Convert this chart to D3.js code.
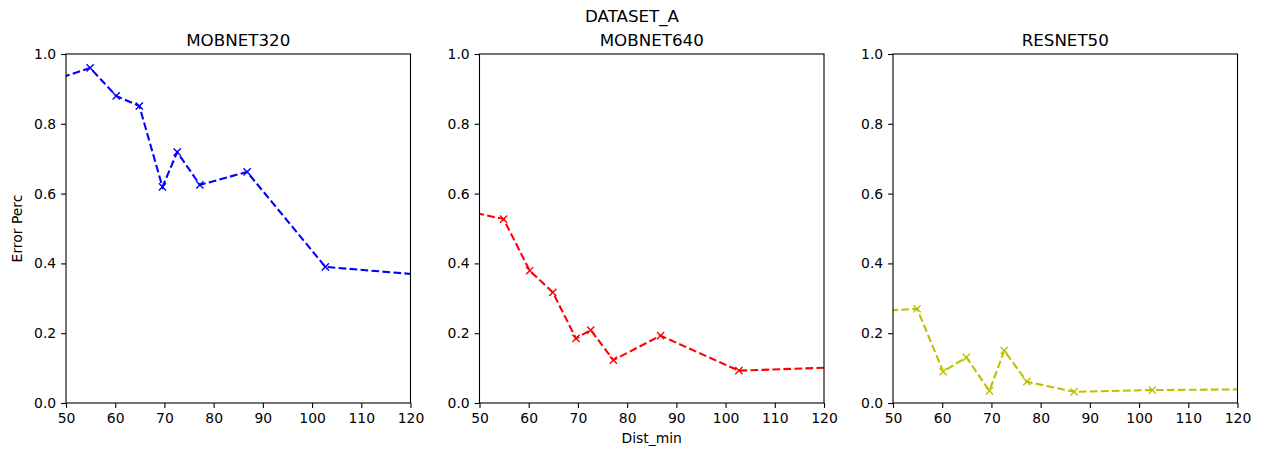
<!DOCTYPE html>
<html>
<head>
<meta charset="utf-8">
<script src="https://cdn.jsdelivr.net/npm/d3@7"></script>
<style>
  body { margin: 0; background: #fff; }
  svg { font-family: "DejaVu Sans", sans-serif; }
</style>
</head>
<body>
<svg width="1263" height="450"></svg>
<script>
// distances (the first and last fall outside the shown x range and get clipped)
const distMin = [45, 54.9, 60.2, 64.9, 69.6, 72.6, 77.2, 86.8, 102.7, 150];
const mobnet320 = [0.914, 0.96, 0.88, 0.851, 0.619, 0.719, 0.625, 0.662, 0.39, 0.335];
const mobnet640 = [0.557, 0.527, 0.379, 0.317, 0.185, 0.209, 0.123, 0.193, 0.0926, 0.1156];
const resnet50 = [0.262, 0.270, 0.090, 0.131, 0.035, 0.150, 0.061, 0.032, 0.037, 0.0425];
const modelNames = ['MOBNET320', 'MOBNET640', 'RESNET50'];
const lineColors = ['#0000ff', '#ff0000', '#bfbf00'];
const xTicks = [50, 60, 70, 80, 90, 100, 110, 120];
const yTicks = [0, 0.2, 0.4, 0.6, 0.8, 1.0];

const series = [mobnet320, mobnet640, resnet50];
const svg = d3.select('svg');

const panelLeft = [66, 479.5, 893];
const panelW = 344.5;
const plotTop = 54, plotBottom = 403;
const plotH = plotBottom - plotTop;

svg.append('text')
    .attr('x', 632).attr('y', 22)
    .attr('text-anchor', 'middle')
    .style('font-size', '16.7px')
    .text('DATASET_A');

series.forEach((vals, k) => {
    const x = d3.scaleLinear().domain([50, 120]).range([0, panelW]);
    const y = d3.scaleLinear().domain([0, 1]).range([plotH, 0]);
    const g = svg.append('g').attr('transform', `translate(${panelLeft[k]},${plotTop})`);

    g.append('clipPath').attr('id', 'clip' + k)
        .append('rect').attr('width', panelW).attr('height', plotH);

    const pts = distMin.map((d, i) => [d, vals[i]]);
    const plot = g.append('g').attr('clip-path', `url(#clip${k})`);

    plot.append('path')
        .datum(pts)
        .attr('fill', 'none')
        .attr('stroke', lineColors[k])
        .attr('stroke-width', 2.08)
        .attr('stroke-dasharray', '7.7,3.3')
        .attr('d', d3.line().x(d => x(d[0])).y(d => y(d[1])));

    const s = 3.6;
    plot.selectAll('path.mk')
        .data(pts)
        .join('path')
        .attr('class', 'mk')
        .attr('d', d => {
            const cx = x(d[0]), cy = y(d[1]);
            return `M${cx - s},${cy - s}L${cx + s},${cy + s}M${cx - s},${cy + s}L${cx + s},${cy - s}`;
        })
        .attr('stroke', lineColors[k])
        .attr('stroke-width', 1.4);

    const xAxis = g.append('g')
        .attr('transform', `translate(0,${plotH})`)
        .call(d3.axisBottom(x).tickValues(xTicks).tickSize(4.9).tickPadding(4.9).tickFormat(d3.format('d')));
    const yAxis = g.append('g')
        .call(d3.axisLeft(y).tickValues(yTicks).tickSize(4.9).tickPadding(4.9).tickFormat(d3.format('.1f')));
    [xAxis, yAxis].forEach(a => {
        a.select('.domain').remove();
        a.selectAll('line').attr('stroke', '#000').attr('stroke-width', 1.1);
        a.selectAll('text').attr('fill', '#000')
            .style('font-size', '13.9px').style('font-family', '"DejaVu Sans", sans-serif');
    });

    g.append('rect')
        .attr('width', panelW).attr('height', plotH)
        .attr('fill', 'none').attr('stroke', '#000').attr('stroke-width', 1.1);

    g.append('text')
        .attr('x', panelW / 2).attr('y', -8.5)
        .attr('text-anchor', 'middle')
        .style('font-size', '16.7px')
        .text(modelNames[k]);
});

svg.append('text')
    .attr('x', panelLeft[1] + panelW / 2).attr('y', 443)
    .attr('text-anchor', 'middle')
    .style('font-size', '13.9px')
    .text('Dist_min');

svg.append('text')
    .attr('transform', `translate(22,${(plotTop + plotBottom) / 2}) rotate(-90)`)
    .attr('text-anchor', 'middle')
    .style('font-size', '13.9px')
    .text('Error Perc');
</script>
</body>
</html>
